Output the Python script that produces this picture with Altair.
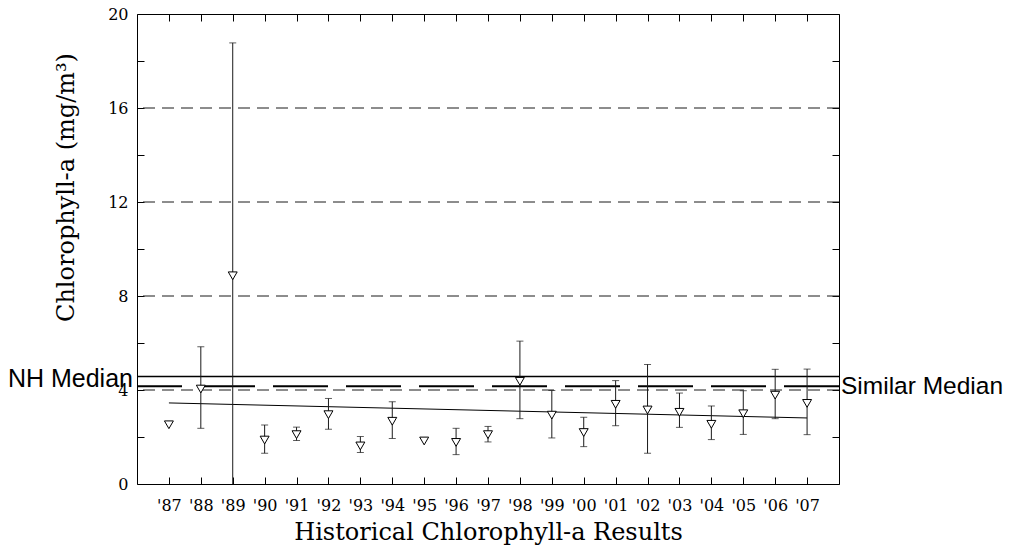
import json
import altair as alt
import pandas as pd

# ---- data ----
years = list(range(1987, 2008))
year_labels = ["'87", "'88", "'89", "'90", "'91", "'92", "'93", "'94", "'95", "'96",
               "'97", "'98", "'99", "'00", "'01", "'02", "'03", "'04", "'05", "'06", "'07"]
means = [2.52, 4.04, 8.86, 1.87, 2.10, 2.95, 1.62, 2.67, 1.83, 1.77, 2.10,
         4.37, 2.93, 2.19, 3.39, 3.15, 3.05, 2.54, 2.99, 3.78, 3.43]
highs = [None, 5.84, 18.77, 2.51, 2.42, 3.64, 2.02, 3.50, None, 2.37, 2.45,
         6.08, 3.98, 2.84, 4.40, 5.09, 3.87, 3.32, 3.97, 4.88, 4.89]
lows = [None, 2.37, -1.0, 1.31, 1.85, 2.33, 1.34, 1.94, None, 1.25, 1.79,
        2.78, 1.96, 1.59, 2.48, 1.31, 2.41, 1.89, 2.11, 2.78, 2.10]
trend_years = [1987, 2007]
trend_values = [3.45, 2.81]
grid_values = [4, 8, 12, 16]
y_tick_values = list(range(0, 21, 2))
nh_median = 4.57
similar_median = 4.16
nh_label = "NH Median"
similar_label = "Similar Median"

df = pd.DataFrame({"year": years, "mean": means, "hi": highs, "lo": lows})
trend_df = pd.DataFrame({"year": trend_years, "value": trend_values})
grid_df = pd.DataFrame({"value": grid_values})
nh_df = pd.DataFrame({"year": [1986], "value": [nh_median], "label": [nh_label]})
sim_df = pd.DataFrame({"year": [2008], "value": [similar_median], "label": [similar_label]})

W, H = 702, 470
SERIF = "DejaVu Serif"
SANS = "Liberation Sans"
INK = "#1a1a1a"

xscale = alt.Scale(domain=[1986, 2008], nice=False, zero=False, padding=0)
yscale = alt.Scale(domain=[0, 20], nice=False, zero=False, padding=0)

label_expr = json.dumps(year_labels) + "[datum.value - 1987]"

x_main = alt.Axis(
    orient="bottom", values=years, labelExpr=label_expr, offset=-7, tickSize=7,
    domain=False, grid=False, labelPadding=13, labelFont=SERIF, labelFontSize=16,
    labelColor="black", tickColor="black", labelFlush=False, labelOverlap=False,
    title="Historical Chlorophyll-a Results", titleFont=SERIF, titleFontSize=24,
    titleFontWeight="normal", titleColor="black", titleBaseline="alphabetic", titleY=62,
)
y_main = alt.Axis(
    orient="left", values=y_tick_values,
    labelExpr="datum.value % 4 == 0 ? datum.label : ''", offset=-7, tickSize=7,
    domain=False, grid=False, labelPadding=9, labelFont=SERIF, labelFontSize=16,
    labelColor="black", tickColor="black", labelOverlap=False,
    title="Chlorophyll-a (mg/m³)", titleFont=SERIF, titleFontSize=24,
    titleFontWeight="normal", titleColor="black", titleAngle=270,
    titleAlign="center", titleBaseline="alphabetic", titleX=-71, titleY=173,
)
x_top = alt.Axis(orient="top", values=years, offset=-7, tickSize=7, labels=False,
                 domain=False, grid=False, title=None, tickColor="black")
y_right = alt.Axis(orient="right", values=y_tick_values, offset=-7, tickSize=7,
                   labels=False, domain=False, grid=False, title=None, tickColor="black")

grid = alt.Chart(grid_df).mark_rule(color=INK, strokeWidth=1, strokeDash=[12, 7]).encode(
    y=alt.Y("value:Q", scale=yscale, axis=None)
)
nh_line = alt.Chart(nh_df).mark_rule(color="black", strokeWidth=1.5).encode(
    y=alt.Y("value:Q", scale=yscale, axis=None)
)
sim_line = alt.Chart(sim_df).mark_rule(color="black", strokeWidth=2, strokeDash=[55, 18]).encode(
    y=alt.Y("value:Q", scale=yscale, axis=None)
)
trend = alt.Chart(trend_df).mark_line(color="black", strokeWidth=1).encode(
    x=alt.X("year:Q", scale=xscale, axis=x_top),
    y=alt.Y("value:Q", scale=yscale, axis=y_right),
)
bars = alt.Chart(df).transform_filter("isValid(datum.hi)").mark_rule(
    color=INK, strokeWidth=1, clip=True
).encode(
    x=alt.X("year:Q", scale=xscale, axis=None),
    y=alt.Y("lo:Q", scale=yscale, axis=None),
    y2="hi:Q",
)
caps_hi = alt.Chart(df).transform_filter("isValid(datum.hi)").mark_tick(
    color=INK, orient="horizontal", size=7, thickness=1, clip=True
).encode(
    x=alt.X("year:Q", scale=xscale, axis=None),
    y=alt.Y("hi:Q", scale=yscale, axis=None),
)
caps_lo = alt.Chart(df).transform_filter("isValid(datum.lo) && datum.lo >= 0").mark_tick(
    color=INK, orient="horizontal", size=7, thickness=1, clip=True
).encode(
    x=alt.X("year:Q", scale=xscale, axis=None),
    y=alt.Y("lo:Q", scale=yscale, axis=None),
)
points = alt.Chart(df).mark_point(
    shape="triangle-down", size=80, filled=True, fill="white", stroke="black",
    strokeWidth=1, opacity=1
).encode(
    x=alt.X("year:Q", scale=xscale, axis=x_main),
    y=alt.Y("mean:Q", scale=yscale, axis=y_main),
)
nh_text = alt.Chart(nh_df).mark_text(
    align="right", baseline="alphabetic", dx=-4, dy=10, font=SANS, fontSize=25, color="black"
).encode(
    x=alt.X("year:Q", scale=xscale, axis=None),
    y=alt.Y("value:Q", scale=yscale, axis=None),
    text="label:N",
)
sim_text = alt.Chart(sim_df).mark_text(
    align="left", baseline="alphabetic", dx=2, dy=8, font=SANS, fontSize=24.5, color="black"
).encode(
    x=alt.X("year:Q", scale=xscale, axis=None),
    y=alt.Y("value:Q", scale=yscale, axis=None),
    text="label:N",
)

chart = alt.layer(
    grid, nh_line, sim_line, trend, bars, caps_hi, caps_lo, points, nh_text, sim_text
).resolve_axis(x="independent", y="independent").properties(
    width=W, height=H,
    autosize=alt.AutoSizeParams(type="none"),
    padding={"left": 129, "top": 6, "right": 167, "bottom": 62},
    background="white",
).configure_view(stroke="black", strokeWidth=1)

chart.save("out.html", embed_options={"renderer": "svg", "actions": False})
